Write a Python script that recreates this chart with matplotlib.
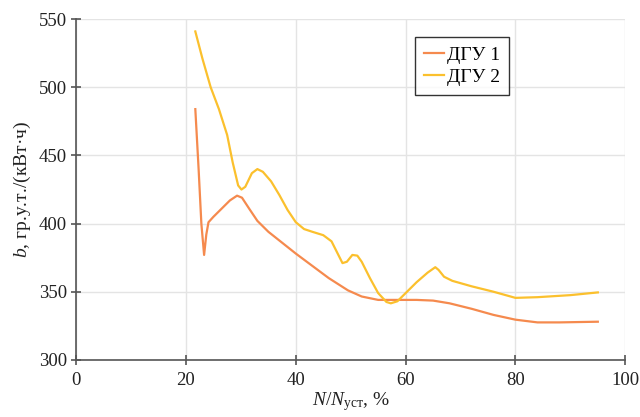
import matplotlib
matplotlib.use('Agg')
import matplotlib.pyplot as plt

### DATA
dgu1_x = [21.7, 22.3, 22.8, 23.3, 23.7, 24.1, 25.0, 26.5, 28.0, 29.3, 30.2, 31.5, 33.0, 35.0,
	37.5, 40.0, 43.0, 46.0, 49.5, 52.0, 55.0, 58.0, 62.0, 65.0, 68.0, 72.0, 76.0, 80.0, 84.0, 88.0, 95.0]
dgu1_y = [484, 440, 400, 377, 392, 401, 405, 411, 417, 420.5, 419, 411, 402, 394,
	386, 378, 369, 360, 351, 346.5, 344, 344, 344, 343.5, 341.5, 337.5, 333, 329.5, 327.5, 327.5, 328]
dgu2_x = [21.7, 23.0, 24.5, 26.0, 27.5, 28.5, 29.5, 30.1, 30.8, 32.0, 33.0, 34.0, 35.5, 37.0,
	38.5, 40.0, 41.5, 43.0, 45.0, 46.5, 47.5, 48.5, 49.3, 50.3, 51.2, 52.0, 53.5, 55.0, 56.5,
	57.3, 58.5, 60.0, 62.0, 64.0, 65.4, 66.0, 67.0, 68.5, 72.0, 76.0, 80.0, 84.0, 90.0, 95.0]
dgu2_y = [541, 521, 500, 484, 465, 445, 428, 425, 427, 437, 440, 438, 431, 421,
	410, 401, 396, 394, 391.5, 387, 379, 371, 372, 377, 376.5, 372, 360, 349, 342.5,
	341.5, 343, 349, 357, 364, 368, 366, 361, 358, 354, 350, 345.5, 346, 347.5, 349.5]
labels = ['ДГУ 1', 'ДГУ 2']
x_ticks = [0, 20, 40, 60, 80, 100]
y_ticks = [300, 350, 400, 450, 500, 550]

### STYLE
plt.rcParams['font.family'] = ['Liberation Serif', 'DejaVu Serif']
plt.rcParams['font.size'] = 11
plt.rcParams['mathtext.fontset'] = 'custom'
plt.rcParams['mathtext.rm'] = 'Liberation Serif'
plt.rcParams['mathtext.it'] = 'Liberation Serif:italic'

fig = plt.figure(figsize=(6.4, 4.17), dpi=100)
ax = fig.add_axes([0.119, 0.137, 0.858, 0.817])

ax.plot(dgu1_x, dgu1_y, color='#F58A4E', lw=1.6, label=labels[0])
ax.plot(dgu2_x, dgu2_y, color='#FBC02D', lw=1.6, label=labels[1])

ax.set_xlim(0, 100)
ax.set_ylim(300, 550)
ax.set_xticks(x_ticks)
ax.set_yticks(y_ticks)
ax.grid(True, color='#e4e4e4', lw=1)
ax.set_axisbelow(True)
for s in ['top', 'right']:
	ax.spines[s].set_visible(False)
for s in ['left', 'bottom']:
	ax.spines[s].set_color('#555555')
	ax.spines[s].set_linewidth(1.2)
ax.tick_params(direction='inout', length=7, width=1.2, color='#555555', labelsize=13.5, labelcolor='#222222')
ax.tick_params(axis='x', pad=5)
ax.tick_params(axis='y', pad=3)

ax.set_xlabel(r'$\mathit{N}/\mathit{N}_{\mathrm{уст}}$, %', fontsize=14, labelpad=1, color='#222222')
ax.set_ylabel(r'$\mathit{b}$, гр.у.т./(кВт·ч)', fontsize=14, labelpad=4, color='#222222')

leg = ax.legend(loc='upper left', bbox_to_anchor=(0.60, 0.975), fontsize=14, frameon=True, fancybox=False,
	edgecolor='black', handlelength=1.0, handletextpad=0.2, borderpad=0.45, labelspacing=0.25)
leg.get_frame().set_linewidth(1.0)

fig.savefig('out.png', dpi=100)
